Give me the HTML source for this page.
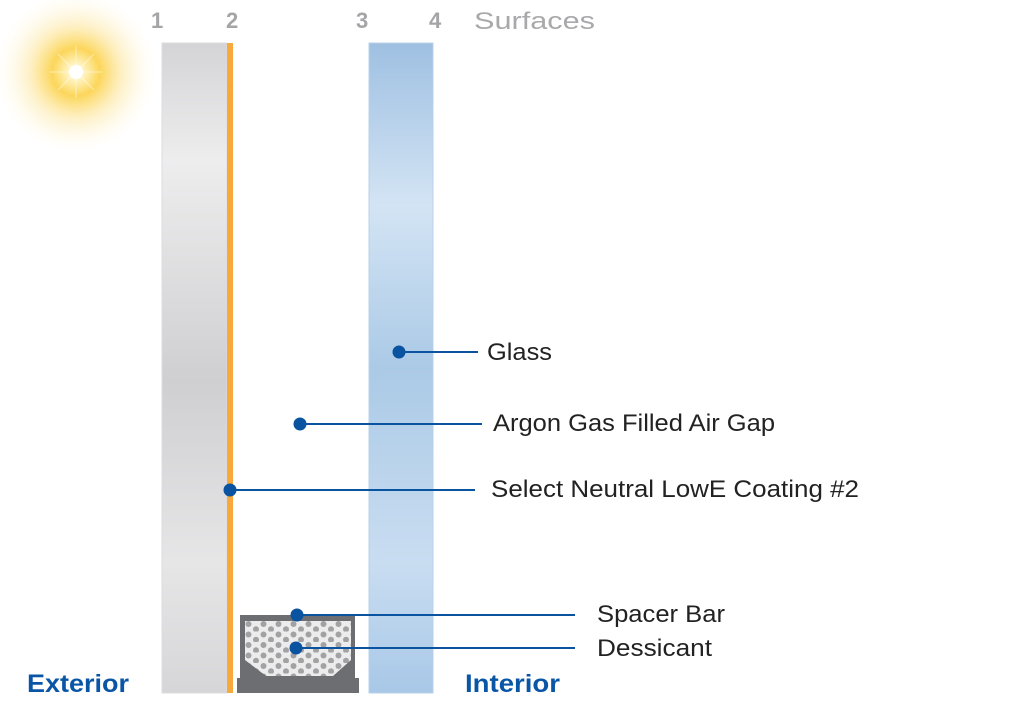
<!DOCTYPE html>
<html><head><meta charset="utf-8"><style>
html,body{margin:0;padding:0;background:#fff;width:1029px;height:715px;overflow:hidden}
svg{display:block}
text{font-family:"Liberation Sans",sans-serif}
</style></head><body>
<svg width="1029" height="715" viewBox="0 0 1029 715" xmlns="http://www.w3.org/2000/svg">
<defs>
<radialGradient id="sun" cx="76" cy="72" r="80" gradientUnits="userSpaceOnUse">
<stop offset="0" stop-color="#fff"/>
<stop offset="0.1" stop-color="#fff3c0"/>
<stop offset="0.3" stop-color="#fcd65a"/>
<stop offset="0.6" stop-color="#fde9a8" stop-opacity="0.6"/>
<stop offset="1" stop-color="#fff8e0" stop-opacity="0"/>
</radialGradient>
<linearGradient id="gray" x1="0" y1="0" x2="0" y2="1">
<stop offset="0" stop-color="#d4d4d6"/>
<stop offset="0.18" stop-color="#eeedee"/>
<stop offset="0.52" stop-color="#cfcfd1"/>
<stop offset="0.8" stop-color="#e6e6e7"/>
<stop offset="1" stop-color="#d6d6d8"/>
</linearGradient>
<linearGradient id="blue" x1="0" y1="0" x2="0" y2="1">
<stop offset="0" stop-color="#9fc0e2"/>
<stop offset="0.25" stop-color="#d3e4f4"/>
<stop offset="0.5" stop-color="#abcae6"/>
<stop offset="0.8" stop-color="#c9ddf1"/>
<stop offset="1" stop-color="#a8c8e7"/>
</linearGradient>
<pattern id="dots" x="245" y="621" width="15" height="10.5" patternUnits="userSpaceOnUse">
<rect width="15" height="10.5" fill="#ececec"/>
<circle cx="3.5" cy="3" r="3" fill="#a2a2a4"/>
<circle cx="11" cy="8.2" r="3" fill="#a2a2a4"/>
</pattern>
</defs>
<circle cx="76" cy="72" r="80" fill="url(#sun)"/>
<g stroke="#fff" stroke-opacity="0.5" stroke-width="1">
<line x1="50" y1="72" x2="102" y2="72"/><line x1="76" y1="46" x2="76" y2="98"/>
<line x1="58" y1="54" x2="94" y2="90"/><line x1="94" y1="54" x2="58" y2="90"/>
</g>
<circle cx="76" cy="72" r="7" fill="#fff"/>

<g font-size="22" fill="#a5a5a8" font-weight="bold">
<text x="151" y="28">1</text><text x="226" y="28">2</text>
<text x="356" y="28">3</text><text x="429" y="28">4</text>
</g>
<text x="474" y="29" font-size="24" fill="#a9a9ab" textLength="121" lengthAdjust="spacingAndGlyphs">Surfaces</text>

<rect x="162" y="43" width="65" height="650" fill="url(#gray)" stroke="#dcdcde" stroke-width="1"/>
<rect x="227" y="43" width="6" height="650" fill="#f9a93b"/>
<rect x="369" y="43" width="64" height="650" fill="url(#blue)" stroke="#b8d0ea" stroke-width="1"/>

<rect x="240" y="615" width="115" height="65" fill="#6d6e71"/>
<rect x="237" y="678" width="122" height="15" fill="#6d6e71"/>
<polygon points="245,621 351,621 351,660 333,676 266,676 245,660" fill="url(#dots)"/>

<g stroke="#0a53a0" stroke-width="2" fill="#0a53a0">
<line x1="399" y1="352" x2="478" y2="352"/><circle cx="399" cy="352" r="5.5"/>
<line x1="300" y1="424" x2="482" y2="424"/><circle cx="300" cy="424" r="5.5"/>
<line x1="230" y1="490" x2="475" y2="490"/><circle cx="230" cy="490" r="5.5"/>
<line x1="297" y1="615" x2="575" y2="615"/><circle cx="297" cy="615" r="5.5"/>
<line x1="296" y1="648" x2="575" y2="648"/><circle cx="296" cy="648" r="5.5"/>
</g>

<g font-size="24" fill="#222">
<text x="487" y="360" textLength="65" lengthAdjust="spacingAndGlyphs">Glass</text>
<text x="493" y="431" textLength="282" lengthAdjust="spacingAndGlyphs">Argon Gas Filled Air Gap</text>
<text x="491" y="497" textLength="368" lengthAdjust="spacingAndGlyphs">Select Neutral LowE Coating #2</text>
<text x="597" y="622" textLength="128" lengthAdjust="spacingAndGlyphs">Spacer Bar</text>
<text x="597" y="656" textLength="115" lengthAdjust="spacingAndGlyphs">Dessicant</text>
</g>
<g font-size="25" font-weight="bold" fill="#0a56a6">
<text x="27" y="692" textLength="102" lengthAdjust="spacingAndGlyphs">Exterior</text>
<text x="465" y="692" textLength="95" lengthAdjust="spacingAndGlyphs">Interior</text>
</g>
</svg>
</body></html>
